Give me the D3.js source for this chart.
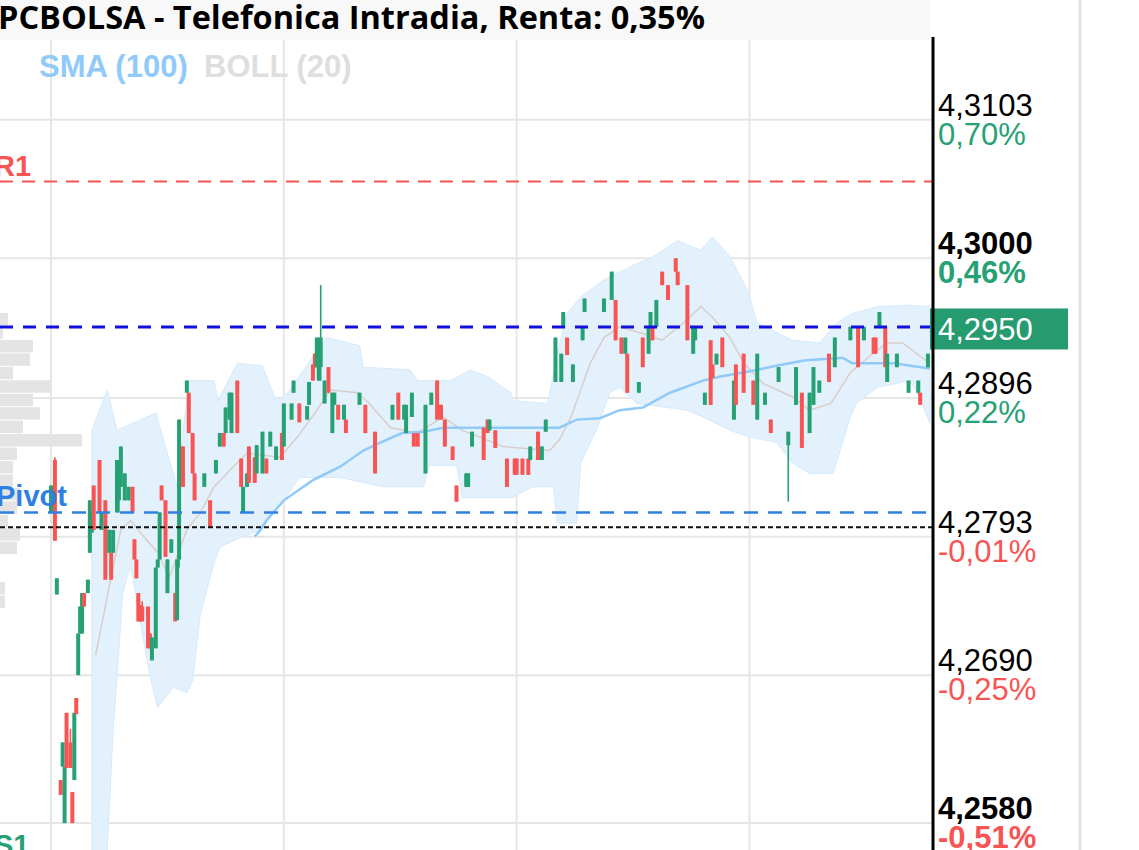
<!DOCTYPE html>
<html>
<head>
<meta charset="utf-8">
<script src="https://cdn.jsdelivr.net/npm/d3@7"></script>
<style>
  html, body { margin: 0; padding: 0; background: #fff; overflow: hidden; }
  svg { display: block; }
</style>
</head>
<body>
<script>
// ---- chart data ----
const TITLE = 'PCBOLSA - Telefonica Intradia, Renta: 0,35%';
const LEGEND = ['SMA (100)', 'BOLL (20)'];

// right axis
const PRICE_TICKS = [4.3103, 4.3000, 4.2896, 4.2793, 4.2690, 4.2580];
const TICK_LABELS = ['4,3103', '4,3000', '4,2896', '4,2793', '4,2690', '4,2580'];
const TICK_PCT = ['0,70%', '0,46%', '0,22%', '-0,01%', '-0,25%', '-0,51%'];
const TICK_BOLD = [false, true, false, false, false, true];

// vertical grid, candle index of each hour mark (15 s candles)
const HOUR_MARKS = [0, 120, 240, 360];

// levels
const LEVEL_NAMES = ['R1', 'Pivot', 'S1'];
const LEVEL_PRICES = [4.3057, 4.2811, 4.2552];
const LAST_PRICE = 4.2950;
const LAST_LABEL = '4,2950';
const PREV_CLOSE = 4.2800;

// candles: [index, open, high, low, close]
const CANDLES = [
    [0, 4.2811, 4.2831, 4.2811, 4.2831], [2, 4.2850, 4.2852, 4.2790, 4.2790],
    [3, 4.2750, 4.2762, 4.2750, 4.2762], [5, 4.2612, 4.2612, 4.2601, 4.2601],
    [6, 4.2622, 4.2640, 4.2622, 4.2640], [7, 4.2580, 4.2622, 4.2580, 4.2622],
    [8, 4.2662, 4.2662, 4.2621, 4.2621], [10, 4.2640, 4.2650, 4.2621, 4.2621],
    [11, 4.2603, 4.2603, 4.2580, 4.2580], [12, 4.2612, 4.2662, 4.2612, 4.2662],
    [13, 4.2673, 4.2673, 4.2661, 4.2661], [14, 4.2690, 4.2721, 4.2690, 4.2721],
    [15, 4.2721, 4.2741, 4.2721, 4.2741], [16, 4.2721, 4.2751, 4.2721, 4.2751],
    [17, 4.2751, 4.2751, 4.2741, 4.2741], [19, 4.2751, 4.2761, 4.2751, 4.2761],
    [20, 4.2781, 4.2820, 4.2781, 4.2820], [21, 4.2796, 4.2811, 4.2796, 4.2811],
    [22, 4.2831, 4.2831, 4.2798, 4.2798], [25, 4.2850, 4.2850, 4.2811, 4.2811],
    [26, 4.2798, 4.2811, 4.2798, 4.2811], [28, 4.2820, 4.2820, 4.2761, 4.2761],
    [30, 4.2781, 4.2798, 4.2781, 4.2798], [31, 4.2781, 4.2781, 4.2761, 4.2761],
    [32, 4.2781, 4.2798, 4.2781, 4.2798], [34, 4.2811, 4.2850, 4.2811, 4.2850],
    [35, 4.2820, 4.2850, 4.2811, 4.2845], [36, 4.2830, 4.2860, 4.2830, 4.2860],
    [38, 4.2820, 4.2840, 4.2820, 4.2840], [40, 4.2820, 4.2830, 4.2820, 4.2830],
    [42, 4.2830, 4.2830, 4.2811, 4.2811], [43, 4.2791, 4.2791, 4.2776, 4.2776],
    [44, 4.2776, 4.2776, 4.2762, 4.2762], [45, 4.2751, 4.2751, 4.2730, 4.2730],
    [46, 4.2742, 4.2742, 4.2730, 4.2730], [47, 4.2741, 4.2745, 4.2730, 4.2730],
    [50, 4.2741, 4.2741, 4.2710, 4.2710], [51, 4.2721, 4.2721, 4.2710, 4.2710],
    [52, 4.2701, 4.2718, 4.2701, 4.2718], [54, 4.2710, 4.2770, 4.2710, 4.2770],
    [55, 4.2770, 4.2776, 4.2770, 4.2776], [56, 4.2776, 4.2811, 4.2776, 4.2811],
    [57, 4.2831, 4.2831, 4.2820, 4.2820], [59, 4.2820, 4.2820, 4.2778, 4.2778],
    [60, 4.2751, 4.2776, 4.2751, 4.2776], [62, 4.2781, 4.2791, 4.2781, 4.2791],
    [64, 4.2751, 4.2751, 4.2730, 4.2730], [65, 4.2731, 4.2776, 4.2731, 4.2776],
    [66, 4.2776, 4.2880, 4.2770, 4.2880], [68, 4.2860, 4.2860, 4.2830, 4.2830],
    [70, 4.2900, 4.2909, 4.2900, 4.2909], [71, 4.2900, 4.2900, 4.2870, 4.2870],
    [73, 4.2870, 4.2870, 4.2840, 4.2840], [74, 4.2840, 4.2840, 4.2820, 4.2820],
    [79, 4.2830, 4.2840, 4.2830, 4.2840], [82, 4.2820, 4.2820, 4.2800, 4.2800],
    [85, 4.2840, 4.2850, 4.2840, 4.2850], [87, 4.2860, 4.2870, 4.2860, 4.2870],
    [89, 4.2870, 4.2870, 4.2860, 4.2860], [90, 4.2870, 4.2889, 4.2870, 4.2889],
    [92, 4.2880, 4.2900, 4.2880, 4.2900], [93, 4.2870, 4.2900, 4.2870, 4.2900],
    [96, 4.2909, 4.2909, 4.2870, 4.2870], [98, 4.2851, 4.2851, 4.2830, 4.2830],
    [99, 4.2811, 4.2830, 4.2811, 4.2830], [101, 4.2830, 4.2840, 4.2830, 4.2840],
    [102, 4.2860, 4.2860, 4.2833, 4.2833], [105, 4.2852, 4.2852, 4.2833, 4.2833],
    [106, 4.2840, 4.2861, 4.2840, 4.2861], [109, 4.2840, 4.2871, 4.2840, 4.2871],
    [111, 4.2851, 4.2851, 4.2840, 4.2840], [113, 4.2860, 4.2871, 4.2860, 4.2871],
    [116, 4.2850, 4.2860, 4.2850, 4.2860], [119, 4.2870, 4.2870, 4.2850, 4.2850],
    [120, 4.2860, 4.2892, 4.2860, 4.2892], [124, 4.2880, 4.2892, 4.2880, 4.2892],
    [125, 4.2900, 4.2909, 4.2900, 4.2909], [128, 4.2892, 4.2892, 4.2878, 4.2878],
    [132, 4.2880, 4.2890, 4.2880, 4.2890], [133, 4.2891, 4.2908, 4.2891, 4.2908],
    [135, 4.2921, 4.2921, 4.2909, 4.2909], [136, 4.2929, 4.2929, 4.2919, 4.2919],
    [137, 4.2919, 4.2941, 4.2919, 4.2941], [138, 4.2909, 4.2941, 4.2909, 4.2935],
    [139, 4.2919, 4.2980, 4.2909, 4.2941], [141, 4.2892, 4.2909, 4.2892, 4.2909],
    [143, 4.2919, 4.2919, 4.2900, 4.2900], [145, 4.2870, 4.2900, 4.2870, 4.2900],
    [146, 4.2891, 4.2900, 4.2891, 4.2900], [148, 4.2891, 4.2891, 4.2880, 4.2880],
    [151, 4.2880, 4.2891, 4.2880, 4.2891], [152, 4.2880, 4.2880, 4.2870, 4.2870],
    [159, 4.2891, 4.2900, 4.2891, 4.2900], [162, 4.2891, 4.2891, 4.2870, 4.2870],
    [167, 4.2871, 4.2871, 4.2840, 4.2840], [176, 4.2880, 4.2891, 4.2880, 4.2891],
    [179, 4.2900, 4.2900, 4.2880, 4.2880], [182, 4.2880, 4.2891, 4.2880, 4.2891],
    [183, 4.2870, 4.2891, 4.2870, 4.2891], [186, 4.2882, 4.2900, 4.2882, 4.2900],
    [187, 4.2870, 4.2870, 4.2860, 4.2860], [189, 4.2870, 4.2870, 4.2860, 4.2860],
    [193, 4.2840, 4.2891, 4.2840, 4.2891], [196, 4.2891, 4.2900, 4.2891, 4.2900],
    [199, 4.2909, 4.2909, 4.2880, 4.2880], [201, 4.2891, 4.2891, 4.2880, 4.2880],
    [203, 4.2880, 4.2880, 4.2860, 4.2860], [207, 4.2860, 4.2860, 4.2850, 4.2850],
    [209, 4.2831, 4.2831, 4.2819, 4.2819], [214, 4.2830, 4.2840, 4.2830, 4.2840],
    [215, 4.2830, 4.2840, 4.2830, 4.2840], [217, 4.2860, 4.2871, 4.2860, 4.2871],
    [223, 4.2874, 4.2874, 4.2850, 4.2850], [225, 4.2880, 4.2880, 4.2870, 4.2870],
    [226, 4.2872, 4.2880, 4.2872, 4.2880], [229, 4.2872, 4.2872, 4.2859, 4.2859],
    [235, 4.2851, 4.2851, 4.2830, 4.2830], [239, 4.2851, 4.2851, 4.2839, 4.2839],
    [240, 4.2851, 4.2851, 4.2839, 4.2839], [243, 4.2851, 4.2851, 4.2839, 4.2839],
    [246, 4.2851, 4.2851, 4.2839, 4.2839], [247, 4.2850, 4.2860, 4.2850, 4.2860],
    [251, 4.2871, 4.2871, 4.2850, 4.2850], [253, 4.2850, 4.2860, 4.2850, 4.2860],
    [255, 4.2871, 4.2880, 4.2871, 4.2880], [260, 4.2908, 4.2941, 4.2908, 4.2941],
    [263, 4.2908, 4.2929, 4.2908, 4.2929], [264, 4.2949, 4.2960, 4.2949, 4.2960],
    [266, 4.2941, 4.2941, 4.2928, 4.2928], [269, 4.2908, 4.2921, 4.2908, 4.2921],
    [274, 4.2939, 4.2949, 4.2939, 4.2949], [275, 4.2960, 4.2970, 4.2960, 4.2970],
    [285, 4.2960, 4.2970, 4.2960, 4.2970], [289, 4.2969, 4.2990, 4.2969, 4.2990],
    [291, 4.2969, 4.2969, 4.2939, 4.2939], [294, 4.2941, 4.2941, 4.2929, 4.2929],
    [296, 4.2929, 4.2941, 4.2929, 4.2941], [297, 4.2929, 4.2929, 4.2900, 4.2900],
    [303, 4.2900, 4.2908, 4.2900, 4.2908], [305, 4.2941, 4.2941, 4.2919, 4.2919],
    [308, 4.2929, 4.2949, 4.2929, 4.2949], [309, 4.2949, 4.2960, 4.2949, 4.2960],
    [310, 4.2949, 4.2949, 4.2939, 4.2939], [312, 4.2949, 4.2969, 4.2949, 4.2969],
    [315, 4.2990, 4.2990, 4.2980, 4.2980], [318, 4.2980, 4.2980, 4.2969, 4.2969],
    [322, 4.3000, 4.3000, 4.2990, 4.2990], [323, 4.2990, 4.2990, 4.2980, 4.2980],
    [328, 4.2980, 4.2980, 4.2939, 4.2939], [331, 4.2929, 4.2949, 4.2929, 4.2949],
    [332, 4.2939, 4.2949, 4.2939, 4.2949], [337, 4.2891, 4.2900, 4.2891, 4.2900],
    [340, 4.2939, 4.2939, 4.2891, 4.2891], [341, 4.2921, 4.2921, 4.2911, 4.2911],
    [343, 4.2921, 4.2929, 4.2921, 4.2929], [346, 4.2941, 4.2941, 4.2919, 4.2919],
    [352, 4.2880, 4.2909, 4.2880, 4.2909], [353, 4.2921, 4.2921, 4.2891, 4.2891],
    [357, 4.2929, 4.2929, 4.2900, 4.2900], [362, 4.2909, 4.2909, 4.2891, 4.2891],
    [364, 4.2880, 4.2929, 4.2880, 4.2929], [368, 4.2891, 4.2900, 4.2891, 4.2900],
    [371, 4.2880, 4.2880, 4.2870, 4.2870], [375, 4.2908, 4.2919, 4.2908, 4.2919],
    [380, 4.2861, 4.2871, 4.2819, 4.2871], [384, 4.2891, 4.2919, 4.2891, 4.2919],
    [387, 4.2900, 4.2900, 4.2859, 4.2859], [391, 4.2870, 4.2900, 4.2870, 4.2900],
    [393, 4.2891, 4.2919, 4.2891, 4.2919], [396, 4.2900, 4.2909, 4.2900, 4.2909],
    [401, 4.2929, 4.2929, 4.2908, 4.2908], [404, 4.2919, 4.2941, 4.2919, 4.2941],
    [412, 4.2939, 4.2949, 4.2939, 4.2949], [416, 4.2949, 4.2949, 4.2919, 4.2919],
    [419, 4.2939, 4.2949, 4.2939, 4.2949], [424, 4.2941, 4.2941, 4.2929, 4.2929],
    [425, 4.2941, 4.2941, 4.2929, 4.2929], [427, 4.2949, 4.2960, 4.2949, 4.2960],
    [430, 4.2949, 4.2949, 4.2919, 4.2919], [431, 4.2908, 4.2929, 4.2908, 4.2929],
    [436, 4.2919, 4.2929, 4.2919, 4.2929], [442, 4.2900, 4.2909, 4.2900, 4.2909],
    [447, 4.2900, 4.2909, 4.2900, 4.2909], [448, 4.2900, 4.2900, 4.2891, 4.2891],
    [452, 4.2919, 4.2929, 4.2919, 4.2929]
];

// SMA(100): [index, value]
const SMA_100 = [
    [105, 4.2793], [108, 4.2798], [111, 4.2805], [120, 4.2820], [135, 4.2835],
    [149, 4.2845], [161, 4.2857], [170, 4.2863], [181, 4.2870], [192, 4.2871],
    [202, 4.2874], [221, 4.2874], [233, 4.2874], [252, 4.2874], [262, 4.2874],
    [271, 4.2880], [283, 4.2881], [293, 4.2887], [305, 4.2889], [319, 4.2900],
    [336, 4.2909], [345, 4.2912], [357, 4.2915], [374, 4.2920], [388, 4.2924],
    [408, 4.2926], [413, 4.2922], [434, 4.2922], [443, 4.2920], [453, 4.2918]
];

// Bollinger(20) middle, upper, lower: [index, value]
const BOLL_MID = [
    [23, 4.2705], [31, 4.2763], [36, 4.2798], [41, 4.2805], [46, 4.2796],
    [55, 4.2781], [61, 4.2763], [70, 4.2798], [77, 4.2811], [84, 4.2830],
    [94, 4.2845], [101, 4.2855], [118, 4.2852], [127, 4.2867], [137, 4.2887],
    [144, 4.2902], [158, 4.2900], [164, 4.2892], [175, 4.2874], [189, 4.2870],
    [202, 4.2882], [212, 4.2872], [221, 4.2867], [233, 4.2860], [257, 4.2857],
    [262, 4.2865], [268, 4.2882], [273, 4.2902], [278, 4.2922], [285, 4.2941],
    [293, 4.2949], [305, 4.2944], [315, 4.2939], [326, 4.2952], [335, 4.2964],
    [341, 4.2956], [350, 4.2941], [357, 4.2922], [367, 4.2907], [382, 4.2897],
    [391, 4.2887], [402, 4.2892], [412, 4.2915], [421, 4.2926], [431, 4.2937],
    [439, 4.2937], [449, 4.2926], [453, 4.2922]
];
const BOLL_UP = [
    [21, 4.2872], [29, 4.2902], [34, 4.2872], [54, 4.2885], [65, 4.2830],
    [71, 4.2909], [84, 4.2909], [86, 4.2894], [96, 4.2922], [109, 4.2920],
    [116, 4.2894], [122, 4.2900], [142, 4.2941], [159, 4.2935], [161, 4.2919],
    [185, 4.2917], [189, 4.2909], [206, 4.2909], [216, 4.2917], [225, 4.2912],
    [237, 4.2900], [238, 4.2894], [256, 4.2892], [261, 4.2929], [266, 4.2959],
    [273, 4.2971], [285, 4.2984], [302, 4.2996], [309, 4.3000], [323, 4.3013],
    [335, 4.3006], [341, 4.3016], [350, 4.3001], [359, 4.2976], [364, 4.2952],
    [382, 4.2939], [396, 4.2937], [405, 4.2952], [413, 4.2959], [426, 4.2964],
    [443, 4.2965], [453, 4.2964]
];
const BOLL_LOW = [
    [21, 4.2553], [25, 4.2545], [29, 4.2560], [32, 4.2649], [35, 4.2709],
    [37, 4.2751], [41, 4.2772], [51, 4.2689], [55, 4.2666], [63, 4.2681],
    [70, 4.2677], [73, 4.2686], [77, 4.2736], [84, 4.2773], [87, 4.2785],
    [97, 4.2792], [108, 4.2798], [118, 4.2816], [128, 4.2837], [149, 4.2837],
    [171, 4.2830], [192, 4.2830], [195, 4.2846], [209, 4.2846], [212, 4.2822],
    [238, 4.2822], [248, 4.2830], [259, 4.2830], [261, 4.2803], [271, 4.2803],
    [273, 4.2848], [281, 4.2872], [288, 4.2900], [293, 4.2904], [302, 4.2892],
    [328, 4.2887], [336, 4.2882], [350, 4.2872], [360, 4.2867], [374, 4.2863],
    [382, 4.2848], [391, 4.2840], [403, 4.2840], [408, 4.2863], [412, 4.2882],
    [415, 4.2892], [426, 4.2904], [443, 4.2909], [449, 4.2892], [453, 4.2877]
];

// volume profile: top price of each 0.001 bin and its volume (relative)
const VP_PRICES = [4.2960, 4.2950, 4.2940, 4.2930, 4.2920, 4.2910, 4.2900, 4.2890,
    4.2880, 4.2870, 4.2860, 4.2850, 4.2840, 4.2830, 4.2820, 4.2810, 4.2800, 4.2790,
    4.2760, 4.2750];
const VP_VOLUME = [8, 3, 33, 30, 13, 50, 33, 40, 23, 82, 17, 13, 13, 20, 17, 8, 20, 17, 5, 5];

class App {

    constructor () {
        this.WIDTH = 1139;
        this.HEIGHT = 850;
        this.PLOT_RIGHT = 933;
        this.PLOT_TOP = 40;
        this.GREEN = '#26a174';
        this.RED = '#f75454';

        this.svg = d3.select('body').append('svg')
            .attr('width', this.WIDTH)
            .attr('height', this.HEIGHT)
            .style('font-family', '"Liberation Sans", Arial, sans-serif');

        // scales: candle index -> x, price -> y
        this.x = d3.scaleLinear().domain([-26.3, 454.6]).range([0, this.PLOT_RIGHT]);
        this.y = d3.scaleLinear().domain([4.2560, 4.3192]).range([this.HEIGHT, 0]);

        this.svg.append('defs').append('clipPath').attr('id', 'plot-clip')
            .append('rect')
            .attr('x', 0).attr('y', this.PLOT_TOP)
            .attr('width', this.PLOT_RIGHT).attr('height', this.HEIGHT - this.PLOT_TOP);
        this.plot = this.svg.append('g').attr('clip-path', 'url(#plot-clip)');

        this.drawGrid();
        this.drawVolumeProfile();
        this.drawIndicators();
        this.drawCandles();
        this.drawLevels();
        this.drawAxis();
        this.drawHeader();
    }

    drawGrid() {
        this.plot.append('g').selectAll('line').data(PRICE_TICKS).enter()
            .append('line')
            .attr('x1', 0).attr('x2', this.PLOT_RIGHT)
            .attr('y1', (d) => this.y(d)).attr('y2', (d) => this.y(d))
            .attr('stroke', '#e6e6e6').attr('stroke-width', 2);

        this.plot.append('g').selectAll('line').data(HOUR_MARKS).enter()
            .append('line')
            .attr('x1', (d) => this.x(d)).attr('x2', (d) => this.x(d))
            .attr('y1', this.PLOT_TOP).attr('y2', this.HEIGHT)
            .attr('stroke', '#e6e6e6').attr('stroke-width', 2);

        // separator at the far right
        this.svg.append('line')
            .attr('x1', 1080).attr('x2', 1080).attr('y1', 0).attr('y2', this.HEIGHT)
            .attr('stroke', '#e2e2e2').attr('stroke-width', 3);
    }

    drawVolumeProfile() {
        const bins = VP_PRICES.map((p, i) => ({ top: p, vol: VP_VOLUME[i] }));
        const w = d3.scaleLinear().domain([0, d3.max(VP_VOLUME)]).range([0, 82]);
        const binH = this.y(4.2950) - this.y(4.2960);
        this.plot.append('g').selectAll('rect').data(bins).enter()
            .append('rect')
            .attr('x', 0)
            .attr('y', (d) => this.y(d.top) + 1)
            .attr('width', (d) => w(d.vol))
            .attr('height', binH - 1)
            .attr('fill', '#e4e4e4');
    }

    drawIndicators() {
        // band: upper edge forward, lower edge backward
        const upPts = BOLL_UP.map((d) => [this.x(d[0]), this.y(d[1])]);
        const lowPts = BOLL_LOW.slice().reverse().map((d) => [this.x(d[0]), this.y(d[1])]);
        const poly = upPts.concat(lowPts);
        this.plot.append('path')
            .attr('d', 'M' + poly.map((p) => p.join(',')).join('L') + 'Z')
            .attr('fill', '#e3f1fd')
            .attr('stroke', '#d6eafb')
            .attr('stroke-width', 1);

        const line = d3.line().x((d) => this.x(d[0])).y((d) => this.y(d[1]));
        this.plot.append('path').datum(BOLL_MID)
            .attr('d', line)
            .attr('fill', 'none').attr('stroke', '#d9cdc9').attr('stroke-width', 1.5);

        this.plot.append('path').datum(SMA_100)
            .attr('d', line)
            .attr('fill', 'none').attr('stroke', '#90caf9').attr('stroke-width', 2.5);
    }

    drawCandles() {
        const g = this.plot.append('g');
        const color = (d) => (d[4] >= d[1] ? this.GREEN : this.RED);
        g.selectAll('line').data(CANDLES).enter()
            .append('line')
            .attr('x1', (d) => this.x(d[0])).attr('x2', (d) => this.x(d[0]))
            .attr('y1', (d) => this.y(d[2])).attr('y2', (d) => this.y(d[3]))
            .attr('stroke', color).attr('stroke-width', 1.6);
        g.selectAll('rect').data(CANDLES).enter()
            .append('rect')
            .attr('x', (d) => this.x(d[0]) - 2)
            .attr('width', 4)
            .attr('y', (d) => this.y(Math.max(d[1], d[4])))
            .attr('height', (d) => Math.max(1, Math.abs(this.y(d[1]) - this.y(d[4]))))
            .attr('fill', color);
    }

    drawLevels() {
        const style = {
            R1: { color: '#f75454', dash: '13,9', width: 2 },
            Pivot: { color: '#2f80e2', dash: '14,10', width: 2.5 },
            S1: { color: '#26a174', dash: '13,9', width: 2 }
        };
        const levels = LEVEL_NAMES.map((n, i) => ({ name: n, price: LEVEL_PRICES[i] }));
        const g = this.plot.append('g');
        g.selectAll('line').data(levels).enter()
            .append('line')
            .attr('x1', 0).attr('x2', this.PLOT_RIGHT)
            .attr('y1', (d) => this.y(d.price)).attr('y2', (d) => this.y(d.price))
            .attr('stroke', (d) => style[d.name].color)
            .attr('stroke-width', (d) => style[d.name].width)
            .attr('stroke-dasharray', (d) => style[d.name].dash);
        this.svg.append('g').selectAll('text').data(levels).enter()
            .append('text')
            .attr('x', (d) => (d.name === 'Pivot' ? -4 : -6))
            .attr('y', (d) => this.y(d.price) - 6)
            .attr('fill', (d) => style[d.name].color)
            .attr('font-weight', 'bold')
            .attr('font-size', 29)
            .text((d) => d.name);

        // previous close, dotted black
        g.append('line')
            .attr('x1', 0).attr('x2', this.PLOT_RIGHT)
            .attr('y1', this.y(PREV_CLOSE)).attr('y2', this.y(PREV_CLOSE))
            .attr('stroke', '#111').attr('stroke-width', 2).attr('stroke-dasharray', '5,3');
        // last price, dashed dark blue
        g.append('line')
            .attr('x1', 0).attr('x2', this.PLOT_RIGHT)
            .attr('y1', this.y(LAST_PRICE) + 1.5).attr('y2', this.y(LAST_PRICE) + 1.5)
            .attr('stroke', '#1010e0').attr('stroke-width', 3).attr('stroke-dasharray', '13,10');
    }

    drawAxis() {
        const ticks = PRICE_TICKS.map((p, i) => ({
            price: p, label: TICK_LABELS[i], pct: TICK_PCT[i], bold: TICK_BOLD[i]
        }));
        const g = this.svg.append('g');
        const t = g.selectAll('g').data(ticks).enter().append('g')
            .attr('transform', (d) => `translate(938, ${this.y(d.price)})`);
        t.append('text')
            .attr('y', -4)
            .attr('font-size', 31)
            .attr('font-weight', (d) => (d.bold ? 'bold' : 'normal'))
            .attr('fill', '#000')
            .text((d) => d.label);
        t.append('text')
            .attr('y', 25)
            .attr('font-size', 31)
            .attr('font-weight', (d) => (d.bold ? 'bold' : 'normal'))
            .attr('fill', (d) => (d.pct.startsWith('-') ? this.RED : this.GREEN))
            .text((d) => d.pct);

        // current price box
        const yl = this.y(LAST_PRICE);
        g.append('rect')
            .attr('x', 930).attr('y', yl - 17).attr('width', 138).attr('height', 41)
            .attr('fill', '#279b70');
        g.append('text')
            .attr('x', 938).attr('y', yl + 15)
            .attr('font-size', 31).attr('fill', '#fff')
            .text(LAST_LABEL);

        // axis line
        g.append('line')
            .attr('x1', this.PLOT_RIGHT).attr('x2', this.PLOT_RIGHT)
            .attr('y1', 37).attr('y2', this.HEIGHT)
            .attr('stroke', '#000').attr('stroke-width', 3);
    }

    drawHeader() {
        this.svg.append('rect')
            .attr('x', 0).attr('y', 0).attr('width', 930).attr('height', 40)
            .attr('fill', '#f8f8f8');
        this.svg.append('text')
            .attr('x', -2).attr('y', 29)
            .attr('font-family', '"Open Sans", "Noto Sans", sans-serif')
            .attr('font-weight', 'bold').attr('font-size', 32.5)
            .attr('fill', '#000')
            .text(TITLE);

        const legendColors = ['#90caf9', '#dedede'];
        const legendX = [39, 204];
        this.svg.append('g').selectAll('text').data(LEGEND).enter()
            .append('text')
            .attr('x', (d, i) => legendX[i]).attr('y', 77)
            .attr('font-weight', 'bold').attr('font-size', 31)
            .attr('fill', (d, i) => legendColors[i])
            .text((d) => d);
    }
}

new App();
</script>
</body>
</html>
